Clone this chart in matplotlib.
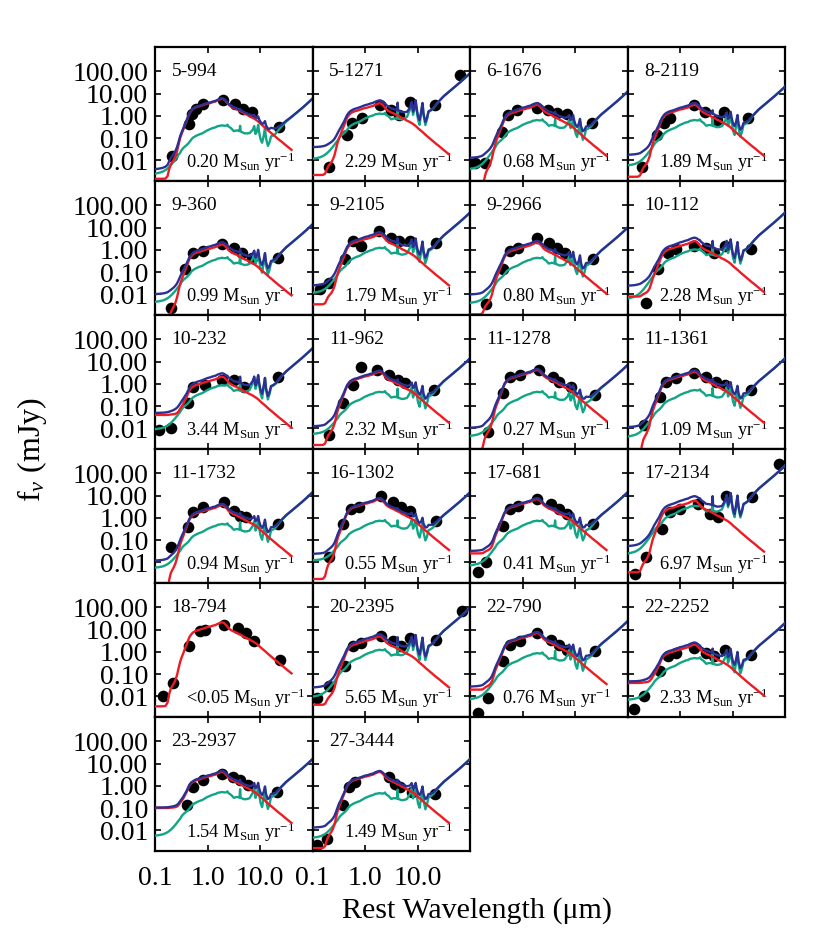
import numpy as np
import matplotlib
matplotlib.use('Agg')
import matplotlib.pyplot as plt
from matplotlib.ticker import FixedLocator, FixedFormatter, NullLocator

plt.rcParams['font.family'] = ['Liberation Serif', 'DejaVu Serif']
plt.rcParams['mathtext.fontset'] = 'custom'
plt.rcParams['mathtext.rm'] = 'Liberation Serif'
plt.rcParams['mathtext.it'] = 'Liberation Serif:italic'

# ---------------- data ----------------
names = ['5-994', '5-1271', '6-1676', '8-2119',
         '9-360', '9-2105', '9-2966', '10-112',
         '10-232', '11-962', '11-1278', '11-1361',
         '11-1732', '16-1302', '17-681', '17-2134',
         '18-794', '20-2395', '22-790', '22-2252',
         '23-2937', '27-3444']
sfr_text = ['0.20', '2.29', '0.68', '1.89',
            '0.99', '1.79', '0.80', '2.28',
            '3.44', '2.32', '0.27', '1.09',
            '0.94', '0.55', '0.41', '6.97',
            '<0.05', '5.65', '0.76', '2.33',
            '1.54', '1.49']

tmpl_loglam = [-1.00, -0.95, -0.90, -0.85, -0.80, -0.76, -0.73, -0.70, -0.67, -0.64,
               -0.61, -0.58, -0.55, -0.52, -0.49, -0.46, -0.43, -0.40, -0.37, -0.34,
               -0.31, -0.28, -0.24, -0.20, -0.15, -0.10, -0.05, 0.00, 0.05, 0.10,
               0.15, 0.20, 0.24, 0.27, 0.30, 0.33, 0.36, 0.38, 0.40, 0.45,
               0.50, 0.55, 0.58, 0.61, 0.621, 0.632, 0.66, 0.70, 0.75, 0.80,
               0.83, 0.86, 0.89, 0.915, 0.94, 0.965, 0.985, 1.01, 1.04, 1.07,
               1.095, 1.115, 1.15, 1.18, 1.21, 1.25, 1.30, 1.36, 1.42, 1.50,
               1.60, 1.70, 1.80, 1.90, 2.00]
tmpl_old_stars = [-7.0, -6.5, -6.0, -5.5, -4.5, -3.3, -2.6, -2.3, -2.15, -2.02,
                  -1.85, -1.62, -1.30, -1.00, -0.80, -0.62, -0.42, -0.25, -0.05, 0.12,
                  0.22, 0.30, 0.36, 0.40, 0.43, 0.47, 0.51, 0.55, 0.57, 0.61,
                  0.64, 0.70, 0.74, 0.76, 0.75, 0.70, 0.62, 0.57, 0.50, 0.41,
                  0.35, 0.30, 0.26, 0.22, 0.21, 0.20, 0.17, 0.10, 0.05, -0.02,
                  -0.05, -0.09, -0.13, -0.17, -0.21, -0.26, -0.30, -0.36, -0.42, -0.48,
                  -0.53, -0.57, -0.65, -0.71, -0.77, -0.85, -0.95, -1.07, -1.18, -1.34,
                  -1.53, -1.73, -1.93, -2.13, -2.33]
tmpl_young_stars = [-3.30, -3.18, -3.07, -2.95, -2.78, -2.64, -2.52, -2.40, -2.28, -2.16,
                    -2.04, -1.92, -1.80, -1.70, -1.56, -1.47, -1.40, -1.34, -1.27, -1.18,
                    -1.08, -0.99, -0.93, -0.88, -0.83, -0.79, -0.72, -0.65, -0.60, -0.55,
                    -0.52, -0.46, -0.45, -0.43, -0.44, -0.45, -0.44, -0.40, -0.48, -0.56,
                    -0.69, -0.66, -0.67, -0.70, -0.71, -0.72, -0.76, -0.82, -0.85, -0.87,
                    -0.88, -0.92, -0.97, -1.02, -1.08, -1.14, -1.20, -1.27, -1.36, -1.44,
                    -1.50, -1.56, -1.66, -1.74, -1.83, -1.95, -2.10, -2.28, -2.45, -2.70,
                    -2.95, -3.20, -3.45, -3.70, -3.95]
tmpl_dust = [-8.0, -8.0, -8.0, -8.0, -8.0, -8.0, -8.0, -8.0, -8.0, -8.0,
             -8.0, -8.0, -8.0, -8.0, -8.0, -8.0, -8.0, -8.0, -8.0, -8.0,
             -8.0, -8.0, -8.0, -8.0, -8.0, -8.0, -8.0, -8.0, -8.0, -8.0,
             -8.0, -8.0, -8.0, -8.0, -8.0, -8.0, -8.0, -8.0, -6.0, -5.0,
             -4.0, -3.0, -2.6, -2.3, -0.80, -2.2, -2.05, -1.90, -1.70, -1.50,
             -1.20, -0.95, -0.62, -1.25, -0.95, -0.50, -0.95, -1.45, -1.75, -1.05,
             -0.60, -1.15, -1.65, -1.35, -0.98, -0.92, -0.82, -0.63, -0.46, -0.26,
             -0.06, 0.14, 0.34, 0.55, 0.77]

# per-galaxy model offsets (dex) and UV levels (log10 mJy); None = no component
red_shift   = [0.00, -0.20, -0.27, -0.27, -0.52, -0.07, -0.44, -0.37, -0.44, -0.22, -0.14,
               -0.22, -0.19, 0.08, 0.08, 0.01, 0.56, -0.07, 0.08, -0.44, -0.14, -0.14]
red_uv      = [-2.83, -2.66, None, -2.74, None, -2.45, -2.9, -2.1, -1.4, -2.75, -3.0,
               None, None, -2.75, -1.6, -2.45, -2.45, -2.38, -1.7, -1.4, -1.0, -2.8]
green_shift = [0.00, 0.53, 0.24, 0.24, 0.07, 0.52, 0.07, 0.45, 0.37, 0.07, 0.07,
               0.15, 0.15, 0.30, 0.30, 0.97, None, 0.52, 0.37, 0.15, 0.15, 0.10]
green_uv    = [-2.7, -2.0, -2.5, -2.3, -2.4, -2.0, -2.45, -2.3, -2.1, -2.3, -2.4,
               -2.45, -2.3, -1.95, -2.2, -1.7, None, -2.1, -2.2, -2.2, -2.3, -2.4]
blue_uv     = [None, -1.6, -2.05, -2.0, -2.25, -2.0, -2.35, -2.0, None, -2.3, -2.3,
               -2.15, -2.2, -2.0, None, -1.6, None, -1.95, None, None, None, -2.15]
dust_shift  = [0.00, 1.14, 0.31, 0.54, 0.37, 0.90, 0.22, 0.90, 0.82, 0.37, 0.07,
               0.37, 0.37, 0.37, 0.37, 1.57, None, 1.20, 0.60, 0.52, 0.43, 0.43]

# photometry (log10 um, log10 mJy)
phot_loglam = [
    [-0.68, -0.36, -0.29, -0.21, -0.08, 0.30, 0.53, 0.67, 0.84, 1.36],
    [-0.68, -0.35, -0.25, -0.06, 0.29, 0.49, 0.64, 0.86, 1.34, 1.80],
    [-0.90, -0.71, -0.40, -0.27, -0.11, 0.27, 0.49, 0.65, 0.84, 1.32],
    [-0.73, -0.44, -0.31, -0.19, 0.26, 0.48, 0.70, 0.83, 1.30],
    [-0.69, -0.42, -0.27, -0.08, 0.27, 0.50, 0.65, 0.85, 1.35],
    [-0.85, -0.69, -0.38, -0.23, -0.08, 0.27, 0.50, 0.65, 0.85, 1.35],
    [-0.69, -0.38, -0.23, -0.08, 0.27, 0.50, 0.65, 0.81, 1.35],
    [-0.65, -0.42, -0.23, -0.08, 0.27, 0.50, 0.65, 0.85, 1.35],
    [-0.92, -0.69, -0.38, -0.27, -0.04, 0.27, 0.50, 0.69, 1.35],
    [-0.69, -0.42, -0.23, -0.08, 0.23, 0.46, 0.62, 0.77, 1.31],
    [-0.65, -0.38, -0.23, -0.04, 0.31, 0.58, 0.69, 0.92, 1.38],
    [-0.69, -0.38, -0.27, -0.08, 0.27, 0.50, 0.69, 0.85, 1.35],
    [-0.69, -0.38, -0.27, -0.08, 0.31, 0.50, 0.62, 0.73, 1.35],
    [-0.69, -0.42, -0.27, -0.12, 0.31, 0.54, 0.69, 0.85, 1.35],
    [-0.85, -0.69, -0.38, -0.23, -0.08, 0.27, 0.54, 0.69, 0.85, 1.35],
    [-0.85, -0.65, -0.35, -0.19, 0.00, 0.35, 0.58, 0.73, 0.88, 1.38, 1.88],
    [-0.85, -0.65, -0.35, -0.15, -0.04, 0.31, 0.58, 0.73, 0.88, 1.38],
    [-0.92, -0.69, -0.38, -0.23, -0.08, 0.31, 0.54, 0.69, 0.85, 1.35, 1.85],
    [-0.85, -0.65, -0.38, -0.23, -0.04, 0.27, 0.54, 0.69, 0.85, 1.38],
    [-0.88, -0.69, -0.38, -0.23, -0.08, 0.27, 0.50, 0.65, 0.85, 1.35],
    [-0.40, -0.27, -0.08, 0.27, 0.49, 0.62, 0.78, 1.32],
    [-0.92, -0.73, -0.41, -0.31, -0.19, 0.45, 0.57, 0.67, 0.89, 1.34],
]
phot_logf = [
    [-1.82, -0.39, 0.09, 0.32, 0.51, 0.72, 0.54, 0.32, 0.17, -0.51],
    [-2.29, -0.86, -0.33, -0.11, 0.49, 0.25, 0.04, 0.64, 0.49, 1.83],
    [-2.14, -2.14, -0.71, 0.04, 0.26, 0.34, 0.26, 0.11, 0.08, -0.34],
    [-2.29, -0.86, -0.34, -0.11, 0.49, 0.19, -0.19, 0.19, -0.11],
    [-2.60, -0.88, -0.13, -0.06, 0.24, 0.09, -0.13, -0.36, -0.36],
    [-1.78, -1.48, -0.43, 0.39, 0.17, 0.84, 0.54, 0.39, 0.39, 0.32],
    [-2.45, -0.88, -0.06, 0.09, 0.54, 0.32, 0.09, -0.13, -0.43],
    [-2.38, -0.88, -0.13, 0.02, 0.17, 0.09, -0.13, 0.17, 0.02],
    [-2.08, -2.00, -0.88, -0.13, -0.06, 0.17, 0.17, -0.13, 0.32],
    [-2.30, -0.88, -0.06, 0.77, 0.62, 0.39, 0.17, 0.02, -0.28],
    [-2.15, -0.43, 0.32, 0.39, 0.62, 0.32, 0.09, -0.13, -0.51],
    [-1.85, -0.58, 0.09, 0.24, 0.47, 0.32, 0.09, -0.06, -0.28],
    [-1.33, -0.43, 0.24, 0.47, 0.69, 0.32, 0.09, 0.02, -0.28],
    [-1.78, -0.28, 0.39, 0.47, 0.99, 0.69, 0.47, 0.32, -0.13],
    [-2.45, -2.00, -0.36, 0.39, 0.54, 0.84, 0.62, 0.39, 0.17, -0.28],
    [-2.53, -1.78, -0.51, 0.24, 0.39, 0.62, 0.17, 0.02, 0.99, 0.92, 2.42],
    [-2.00, -1.40, 0.24, 0.92, 0.99, 1.22, 1.07, 0.84, 0.47, -0.36],
    [-2.08, -1.55, -0.66, 0.24, 0.39, 0.69, 0.47, 0.24, 0.62, 0.54, 1.82],
    [-2.75, -2.08, -0.43, 0.32, 0.47, 0.84, 0.54, 0.32, 0.09, 0.02],
    [-2.57, -2.00, -0.88, -0.21, -0.06, 0.17, -0.06, -0.21, 0.09, -0.13],
    [-0.88, -0.06, 0.24, 0.54, 0.39, 0.24, 0.02, -0.28],
    [-2.68, -2.38, -0.88, -0.06, 0.17, 0.39, 0.09, -0.06, -0.28, -0.36],
]

# ---------------- style ----------------
RED = '#ec1c24'
GREEN = '#12a585'
BLUE = '#2b3192'
UV_CUT = -0.3      # UV plateau components stop here (log um)
RED_END = 1.6      # stellar model drawn up to 40 um

W, H = 830, 949
fig = plt.figure(figsize=(W / 100, H / 100), dpi=100)
gs = fig.add_gridspec(6, 4, left=155 / W, right=785 / W, top=1 - 47 / H,
                      bottom=1 - 851 / H, hspace=0, wspace=0)

lx = np.array(tmpl_loglam)
lam = 10 ** lx
uvmask = lx < UV_CUT


def lin(v):
    return 0.0 if v is None else 10.0 ** v


for i, name in enumerate(names):
    r, c = divmod(i, 4)
    ax = fig.add_subplot(gs[r, c])
    ax.set_xscale('log')
    ax.set_yscale('log')
    ax.set_xlim(0.1, 100)
    ax.set_ylim(10 ** -2.93, 10 ** 3.09)

    red_lin = 10 ** (np.array(tmpl_old_stars) + red_shift[i]) + lin(red_uv[i]) * uvmask
    red_mask = lx <= RED_END + 1e-9
    ax.scatter(10 ** np.array(phot_loglam[i]), 10 ** np.array(phot_logf[i]),
               s=70, color='black', zorder=2, clip_on=True, linewidths=0)
    if green_shift[i] is not None:
        green_lin = (10 ** (np.array(tmpl_young_stars) + green_shift[i])
                     + 10 ** (np.array(tmpl_dust) + dust_shift[i])
                     + lin(green_uv[i]) * uvmask)
        blue_lin = red_lin + green_lin + lin(blue_uv[i]) * uvmask
        ax.plot(lam, green_lin, color=GREEN, lw=1.7, zorder=3)
        ax.plot(lam[red_mask], red_lin[red_mask], color=RED, lw=1.7, zorder=4)
        ax.plot(lam, blue_lin, color=BLUE, lw=1.7, zorder=5)
    else:
        ax.plot(lam[red_mask], red_lin[red_mask], color=RED, lw=1.7, zorder=4)

    ax.text(0.105, 0.785, name, transform=ax.transAxes, fontsize=14,
            ha='left', va='baseline')
    ax.text(0.20, 0.10, sfr_text[i] + r' M$_{\mathrm{Sun}}$ yr$^{\mathrm{-1}}$',
            transform=ax.transAxes, fontsize=13.2, ha='left', va='baseline')

    for s in ax.spines.values():
        s.set_linewidth(1.6)
    ax.xaxis.set_major_locator(FixedLocator([0.1, 1, 10, 100]))
    ax.yaxis.set_major_locator(FixedLocator([0.01, 0.1, 1, 10, 100]))
    ax.xaxis.set_minor_locator(NullLocator())
    ax.yaxis.set_minor_locator(NullLocator())
    ax.tick_params(which='major', direction='in', length=4, width=1.2,
                   top=True, right=True, labelsize=20)
    if c == 0:
        ax.yaxis.set_major_formatter(FixedFormatter(['0.01', '0.10', '1.00', '10.00', '100.00']))
        ax.tick_params(axis='y', pad=5)
    else:
        ax.tick_params(axis='y', labelleft=False)
    if r == 5:
        ax.xaxis.set_major_formatter(FixedFormatter(['0.1', '1.0', '10.0', '']))
        ax.tick_params(axis='x', pad=11)
    else:
        ax.tick_params(axis='x', labelbottom=False)

fig.text(32 / W, 1 - 450 / H, r'f$_{\nu}$ (mJy)', rotation=90, fontsize=23,
         ha='center', va='center')
fig.text(477 / W, 1 - 911 / H, 'Rest Wavelength (\u03bcm)', fontsize=21.6,
         ha='center', va='center')

fig.savefig('out.png', dpi=100)
